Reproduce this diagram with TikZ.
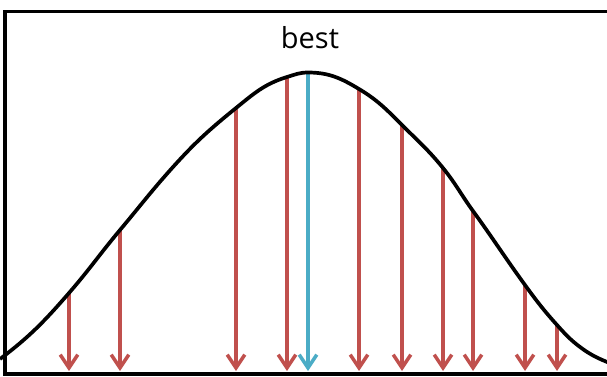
\documentclass[tikz,border=0pt]{standalone}
\usepackage{fontspec}
\setmainfont{Open Sans}
\usetikzlibrary{arrows.meta}

\definecolor{pickred}{RGB}{192,80,77}
\definecolor{pickblue}{RGB}{75,172,198}

\tikzset{
    sample/.style={draw=pickred, line width=2pt, -{Straight Barb[length=7.5pt, width=10pt]}},
    chosen/.style={sample, draw=pickblue},
    bell/.style={draw=black, line width=2.1pt}
}

\begin{document}
\begin{tikzpicture}[x=0.02cm, y=-0.02cm]
        \useasboundingbox (0,0) rectangle (607,376);
        \clip (0,0) rectangle (607,376);

        % Frame
        \draw[line width=1.8pt] (5,11.5) rectangle (650,374);

        % Label
        \node[font=\fontsize{16.5}{18}\selectfont] (best) at (310,38) {best};

        % Points on the curve
        \coordinate (left) at (0,359);
        \coordinate (s1) at (69,293);
        \coordinate (s2) at (120,230);
        \coordinate (mid) at (173,167);
        \coordinate (s3) at (236,108);
        \coordinate (s4) at (287,77);
        \coordinate (top) at (308,72.5);
        \coordinate (s5) at (359,89);
        \coordinate (s6) at (402,125);
        \coordinate (s7) at (443,168);
        \coordinate (s8) at (473,211);
        \coordinate (s9) at (525,285);
        \coordinate (s10) at (557,325);
        \coordinate (tail) at (580,347);
        \coordinate (right) at (625,369);

        % Bottom ends
        \coordinate (e1) at (69,371);
        \coordinate (e2) at (120,371);
        \coordinate (e3) at (236,371);
        \coordinate (e4) at (287,371);
        \coordinate (e0) at (308,371);
        \coordinate (e5) at (359,371);
        \coordinate (e6) at (402,371);
        \coordinate (e7) at (443,371);
        \coordinate (e8) at (473,371);
        \coordinate (e9) at (525,371);
        \coordinate (e10) at (557,371);

        % Arrows
        \draw[sample] (s1) -- (e1);
        \draw[sample] (s2) -- (e2);
        \draw[sample] (s3) -- (e3);
        \draw[sample] (s4) -- (e4);
        \draw[sample] (s5) -- (e5);
        \draw[sample] (s6) -- (e6);
        \draw[sample] (s7) -- (e7);
        \draw[sample] (s8) -- (e8);
        \draw[sample] (s9) -- (e9);
        \draw[sample] (s10) -- (e10);
        \draw[chosen] (top) -- (e0);

        % Curve
        \draw[bell] (left) to[out=37,in=229] (s1) to[out=49,in=230] (s2)
            to[out=50,in=228] (mid) to[out=48,in=219] (s3) to[out=39,in=197] (s4)
            to[out=17,in=180] (top) to[out=0,in=149] (s5) to[out=-31,in=135] (s6)
            to[out=-45,in=129] (s7) to[out=-51,in=126] (s8) to[out=-54,in=126] (s9)
            to[out=-54,in=132] (s10) to[out=-48,in=143] (tail) to[out=-37,in=158] (right);
    \end{tikzpicture}
\end{document}
